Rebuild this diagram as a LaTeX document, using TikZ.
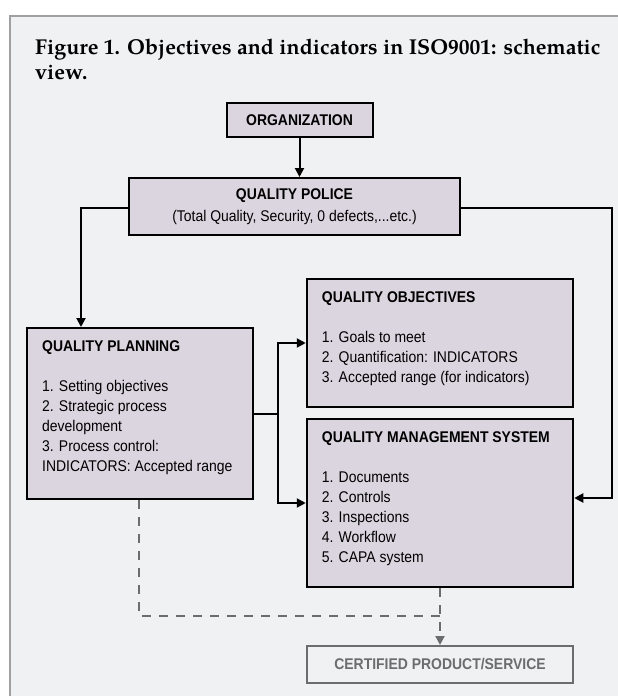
\documentclass[tikz,border=0pt]{standalone}
\usepackage{fontspec}
\setmainfont{Liberation Sans}[FakeStretch=0.9]
\newfontfamily\pagellafamily{texgyrepagella}[Extension=.otf,UprightFont=*-regular,BoldFont=*-bold]
\usetikzlibrary{arrows.meta,calc}
\definecolor{panelbg}{RGB}{240,241,243}
\definecolor{boxfill}{RGB}{219,213,224}
\definecolor{framegray}{RGB}{160,160,160}
\definecolor{certgray}{RGB}{108,108,108}
\newcommand{\captionfont}{\pagellafamily\bfseries\fontsize{21.5}{24.5}\selectfont}
\tikzset{
  box/.style={draw=black,line width=2pt,fill=boxfill,inner sep=0pt},
  boxtext/.style={anchor=north west,inner sep=0pt,align=left,font=\fontsize{15.5}{20}\selectfont},
  link/.style={line width=2pt,-{Triangle[length=9pt,width=9pt]}},
  dashlink/.style={certgray,line width=2pt,dash pattern=on 9pt off 8pt}
}
\begin{document}
\begin{tikzpicture}[x=1pt,y=-1pt]
  \useasboundingbox (0,0) rectangle (618,696);
  \fill[panelbg] (10,16) rectangle (618,696);
  \draw[framegray,line width=1.2pt] (10,696) -- (10,16) -- (618,16);
  \node[anchor=north west,inner sep=0pt,align=left,font=\captionfont] (caption) at (35,39)
    {Figure 1. Objectives and indicators in ISO9001: schematic\\view.};

  \node[box,minimum width=146pt,minimum height=34pt,font=\fontsize{15.5}{20}\selectfont\bfseries] (org) at (299.5,120) {ORGANIZATION};
  \node[box,minimum width=331pt,minimum height=57pt,align=center,font=\fontsize{15.5}{22}\selectfont] (police) at (294.5,206.5)
    {\textbf{QUALITY POLICE}\\(Total Quality, Security, 0 defects,...etc.)};
  \node[box,minimum width=226pt,minimum height=171pt] (plan) at (140,413.5) {};
  \node[box,minimum width=266.5pt,minimum height=128pt] (obj) at (440,343) {};
  \node[box,minimum width=266.5pt,minimum height=168pt] (qms) at (440,503) {};
  \node[draw=certgray,line width=2pt,inner sep=0pt,minimum width=266pt,minimum height=37pt,
        text=certgray,font=\fontsize{15.5}{20}\selectfont\bfseries] (cert) at (440,664.5) {CERTIFIED PRODUCT/SERVICE};

  \node[boxtext] (planText) at ($(plan.north west)+(16,13.5)$)
    {\textbf{QUALITY PLANNING}\\[20pt]1. Setting objectives\\2. Strategic process\\development\\3. Process control:\\INDICATORS: Accepted range};
  \node[boxtext] (objText) at ($(obj.north west)+(16,13.5)$)
    {\textbf{QUALITY OBJECTIVES}\\[20pt]1. Goals to meet\\2. Quantification: INDICATORS\\3. Accepted range (for indicators)};
  \node[boxtext] (qmsText) at ($(qms.north west)+(16,13.5)$)
    {\textbf{QUALITY MANAGEMENT SYSTEM}\\[20pt]1. Documents\\2. Controls\\3. Inspections\\4. Workflow\\5. CAPA system};

  \coordinate (leftTurn) at (81,208);
  \coordinate (rightTurn) at (612,208);
  \coordinate (split) at (278,413.5);
  \coordinate (merge) at (440,616);

  \draw[link] (org) -- (org |- police.north);
  \draw[link] ([yshift=-1.5pt]police.west) -- (leftTurn) -- (leftTurn |- plan.north);
  \draw[link] ([yshift=-1.5pt]police.east) -- (rightTurn) |- ([yshift=5pt]qms.east);
  \draw[link] (plan.east) -- (split) |- (obj.west);
  \draw[link] (split) |- (qms.west);
  \draw[dashlink] ([xshift=-1pt]plan.south) |- (merge);
  \draw[dashlink,-{Triangle[length=9pt,width=9pt]}] (qms.south) -- (cert.north);
\end{tikzpicture}
\end{document}
